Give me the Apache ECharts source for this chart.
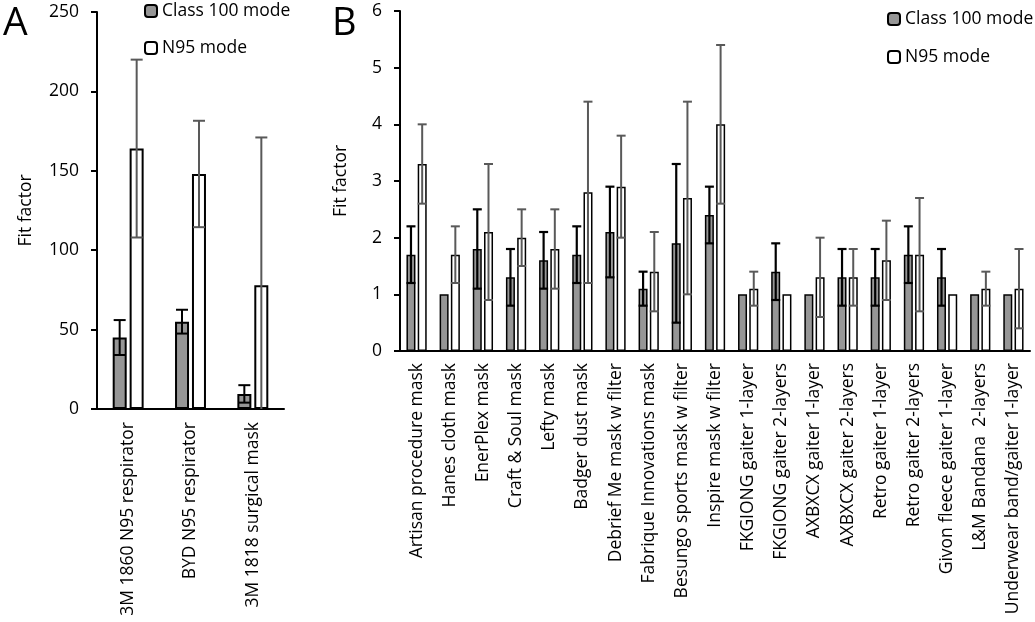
<!DOCTYPE html>
<html><head><meta charset="utf-8">
<script src="https://cdn.jsdelivr.net/npm/echarts@6/dist/echarts.min.js"></script>
<style>html,body{margin:0;padding:0;background:#fff}#c{width:1035px;height:622px}</style>
</head><body><div id="c"></div>
<script>
// Panel A data
const catsA = ['3M 1860 N95 respirator', 'BYD N95 respirator', '3M 1818 surgical mask'];
const classA = [45, 55, 9.5];
const classAErr = [11, 7.5, 5.5];
const n95A = [164, 148, 78];
const n95AErr = [56, 33.5, 93];
const ticksA = [0, 50, 100, 150, 200, 250];

// Panel B data
const catsB = ['Artisan procedure mask', 'Hanes cloth mask', 'EnerPlex mask', 'Craft & Soul mask', 'Lefty mask',
  'Badger dust mask', 'Debrief Me mask w filter', 'Fabrique Innovations mask', 'Besungo sports mask w filter',
  'Inspire mask w filter', 'FKGIONG gaiter 1-layer', 'FKGIONG gaiter 2-layers', 'AXBXCX gaiter 1-layer',
  'AXBXCX gaiter 2-layers', 'Retro gaiter 1-layer', 'Retro gaiter 2-layers', 'Givon fleece gaiter 1-layer',
  'L&M Bandana  2-layers', 'Underwear band/gaiter 1-layer'];
const classB = [1.7, 1.0, 1.8, 1.3, 1.6, 1.7, 2.1, 1.1, 1.9, 2.4, 1.0, 1.4, 1.0, 1.3, 1.3, 1.7, 1.3, 1.0, 1.0];
const classBErr = [0.5, 0, 0.7, 0.5, 0.5, 0.5, 0.8, 0.3, 1.4, 0.5, 0, 0.5, 0, 0.5, 0.5, 0.5, 0.5, 0, 0];
const n95B = [3.3, 1.7, 2.1, 2.0, 1.8, 2.8, 2.9, 1.4, 2.7, 4.0, 1.1, 1.0, 1.3, 1.3, 1.6, 1.7, 1.0, 1.1, 1.1];
const n95BErr = [0.7, 0.5, 1.2, 0.5, 0.7, 1.6, 0.9, 0.7, 1.7, 1.4, 0.3, 0, 0.7, 0.5, 0.7, 1.0, 0, 0.3, 0.7];
const ticksB = [0, 1, 2, 3, 4, 5, 6];

const FONT = 'Open Sans';
const FS = 17.5;
const GRAY = '#969696';

function errData(vals, errs) { return vals.map((v, i) => [i, v, errs[i]]); }

function errRender(offset, capW, color, lw) {
  return function (params, api) {
    const i = api.value(0), v = api.value(1), e = api.value(2);
    if (!e) return null;
    const top = api.coord([i, v + e]);
    const lowV = v - e;
    const bot = api.coord([i, Math.max(0, lowV)]);
    const x = top[0] + offset;
    const style = { stroke: color, lineWidth: lw };
    const children = [
      { type: 'line', shape: { x1: x, y1: top[1], x2: x, y2: bot[1] }, style },
      { type: 'line', shape: { x1: x - capW / 2, y1: top[1], x2: x + capW / 2, y2: top[1] }, style }
    ];
    if (lowV > 0) children.push({ type: 'line', shape: { x1: x - capW / 2, y1: bot[1], x2: x + capW / 2, y2: bot[1] }, style });
    return { type: 'group', children };
  };
}

const axisLine = { show: true, lineStyle: { color: '#000', width: 2 } };
const lblStyle = { color: '#000', fontFamily: FONT, fontSize: FS };

const chart = echarts.init(document.getElementById('c'));
chart.setOption({
  animation: false,
  backgroundColor: '#fff',
  textStyle: { fontFamily: FONT },
  grid: [
    { left: 97, top: 12, width: 187, height: 397, containLabel: false, outerBoundsMode: 'none' },
    { left: 400, top: 11, width: 630, height: 340, containLabel: false, outerBoundsMode: 'none' }
  ],
  xAxis: [
    { gridIndex: 0, type: 'category', data: catsA, axisLine, axisTick: { show: false },
      axisLabel: Object.assign({ rotate: 90, interval: 0, margin: 13 }, lblStyle), splitLine: { show: false } },
    { gridIndex: 1, type: 'category', data: catsB, axisLine, axisTick: { show: false },
      axisLabel: Object.assign({ rotate: 90, interval: 0, margin: 12 }, lblStyle), splitLine: { show: false } }
  ],
  yAxis: [
    { gridIndex: 0, type: 'value', min: ticksA[0], max: ticksA[ticksA.length - 1], interval: 50,
      axisLine, axisTick: { show: true, length: 6, lineStyle: { color: '#000', width: 2 } },
      axisLabel: Object.assign({ margin: 18 }, lblStyle), splitLine: { show: false },
      name: 'Fit factor', nameLocation: 'middle', nameRotate: 90, nameGap: 62,
      nameTextStyle: { color: '#000', fontFamily: FONT, fontSize: FS } },
    { gridIndex: 1, type: 'value', min: ticksB[0], max: ticksB[ticksB.length - 1], interval: 1,
      axisLine, axisTick: { show: true, length: 6, lineStyle: { color: '#000', width: 2 } },
      axisLabel: Object.assign({ margin: 18 }, lblStyle), splitLine: { show: false },
      name: 'Fit factor', nameLocation: 'middle', nameRotate: 90, nameGap: 50,
      nameTextStyle: { color: '#000', fontFamily: FONT, fontSize: FS } }
  ],
  legend: [
    { orient: 'vertical', left: 144, top: 1, padding: 0, itemWidth: 12, itemHeight: 12, itemGap: 17,
      data: ['Class 100 mode', 'N95 mode'], selectedMode: false,
      textStyle: { color: '#000', fontFamily: FONT, fontSize: FS, lineHeight: 20 } },
    { orient: 'vertical', left: 887, top: 9, padding: 0, itemWidth: 12, itemHeight: 12, itemGap: 18,
      data: ['Class 100 mode', 'N95 mode'], selectedMode: false,
      textStyle: { color: '#000', fontFamily: FONT, fontSize: FS, lineHeight: 20 } }
  ],
  graphic: [
    { type: 'text', left: 3, top: 4, style: { text: 'A', fontFamily: FONT, fontSize: 39, fill: '#000' } },
    { type: 'text', left: 332, top: 5, style: { text: 'B', fontFamily: FONT, fontSize: 38, fill: '#000' } }
  ],
  series: [
    { name: 'Class 100 mode', type: 'bar', xAxisIndex: 0, yAxisIndex: 0, data: classA, barWidth: 14, barGap: '21%',
      itemStyle: { color: GRAY, borderColor: '#000', borderWidth: 2 } },
    { name: 'N95 mode', type: 'bar', xAxisIndex: 0, yAxisIndex: 0, data: n95A, barWidth: 14, barGap: '21%',
      itemStyle: { color: '#fff', borderColor: '#000', borderWidth: 2 } },
    { type: 'custom', xAxisIndex: 0, yAxisIndex: 0, z: 5, data: errData(classA, classAErr),
      encode: { x: 0, y: 1 }, renderItem: errRender(-8.5, 12, '#000', 2) },
    { type: 'custom', xAxisIndex: 0, yAxisIndex: 0, z: 5, data: errData(n95A, n95AErr),
      encode: { x: 0, y: 1 }, renderItem: errRender(8.5, 12, '#595959', 2) },
    { name: 'Class 100 mode', type: 'bar', xAxisIndex: 1, yAxisIndex: 1, data: classB, barWidth: 9, barGap: '25%',
      itemStyle: { color: GRAY, borderColor: '#000', borderWidth: 1.5 } },
    { name: 'N95 mode', type: 'bar', xAxisIndex: 1, yAxisIndex: 1, data: n95B, barWidth: 9, barGap: '25%',
      itemStyle: { color: '#fff', borderColor: '#000', borderWidth: 1.5 } },
    { type: 'custom', xAxisIndex: 1, yAxisIndex: 1, z: 5, data: errData(classB, classBErr),
      encode: { x: 0, y: 1 }, renderItem: errRender(-5.6, 9, '#000', 2.2) },
    { type: 'custom', xAxisIndex: 1, yAxisIndex: 1, z: 5, data: errData(n95B, n95BErr),
      encode: { x: 0, y: 1 }, renderItem: errRender(5.6, 9, '#595959', 2) }
  ]
});
</script></body></html>
